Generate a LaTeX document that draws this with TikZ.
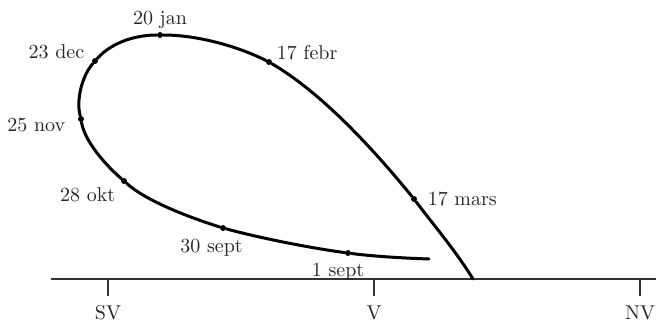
\documentclass[tikz,border=0pt]{standalone}
\usetikzlibrary{positioning}
\begin{document}
\begin{tikzpicture}[
  x=0.5pt, y=-0.5pt,
  font=\fontsize{10}{12}\selectfont,
  dot/.style={circle, fill=black, inner sep=0pt, minimum size=3pt},
  lbl/.style={inner sep=1pt, text=black!85},
  axis/.style={line width=0.75pt, draw=black!80},
  orbit/.style={line width=1.5pt, line join=round, line cap=round}
]
\useasboundingbox (0,0) rectangle (659,326);

% horizon
\coordinate (w) at (51,279);
\coordinate (e) at (656,279);
\coordinate (sv) at (108,296);
\coordinate (v) at (374,296);
\coordinate (nv) at (640,296);
\draw[axis] (w) -- (e);
\draw[axis] (sv) -- (sv |- w);
\draw[axis] (v) -- (v |- w);
\draw[axis] (nv) -- (nv |- w);
\node[lbl, below=3.5pt of sv] (lsv) {SV};
\node[lbl, below=3.5pt of v] (lv) {V};
\node[lbl, below=3.5pt of nv] (lnv) {NV};

% dates along the path
\node[dot] (sep1) at (348,253) {};
\node[dot] (sep30) at (223,228) {};
\node[dot] (okt) at (124,181) {};
\node[dot] (nov) at (81,119) {};
\node[dot] (dec) at (95,61) {};
\node[dot] (jan) at (160,35) {};
\node[dot] (feb) at (269,62) {};
\node[dot] (mar) at (414,199) {};
\coordinate (tail) at (429,259);
\coordinate (foot) at (473,279);

\draw[orbit] (tail) .. controls (400,258) and (370,256) .. (sep1)
  .. controls (310,248) and (260,238) .. (sep30)
  .. controls (185,216) and (145,200) .. (okt)
  .. controls (100,160) and (84,138) .. (nov)
  .. controls (76,100) and (82,76) .. (dec)
  .. controls (113,41) and (138,35) .. (jan)
  .. controls (195,35) and (235,45) .. (feb)
  .. controls (320,92) and (370,145) .. (mar)
  .. controls (436,228) and (455,250) .. (foot);

\node[lbl, above=0.5pt of jan] (ljan) {20 jan};
\node[lbl, left=2.5pt of dec, yshift=4.5pt] (ldec) {23 dec};
\node[lbl, right=1pt of feb, yshift=4.5pt] (lfeb) {17 febr};
\node[lbl, left=5pt of nov, yshift=-3.25pt] (lnov) {25 nov};
\node[lbl, left=1.5pt of okt, yshift=-6.75pt] (lokt) {28 okt};
\node[lbl, below=2.5pt of sep30, xshift=-5.75pt] (lsep30) {30 sept};
\node[lbl, below=2pt of sep1, xshift=-5pt] (lsep1) {1 sept};
\node[lbl, right=4pt of mar] (lmar) {17 mars};
\end{tikzpicture}
\end{document}
